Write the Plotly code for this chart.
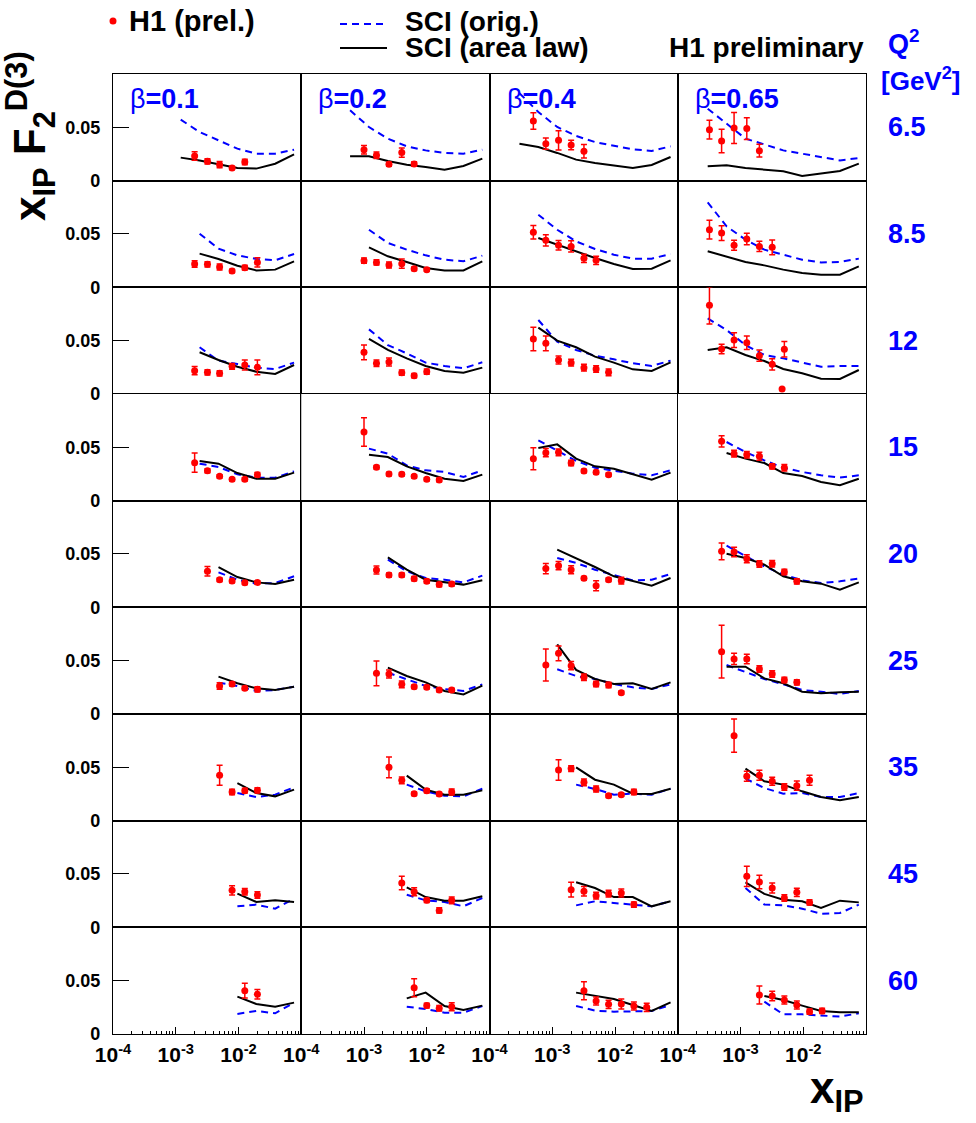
import plotly.graph_objects as go
from plotly.subplots import make_subplots

# ---------------- data ----------------
BETA_LABELS = ["0.1", "0.2", "0.4", "0.65"]
Q2_LABELS = ["6.5", "8.5", "12", "15", "20", "25", "35", "45", "60"]
X_TICKS = [1e-4, 1e-3, 1e-2]
X_TICK_TEXT = ["10<sup>-4</sup>", "10<sup>-3</sup>", "10<sup>-2</sup>"]
Y_TICKS = [0, 0.05]
Y_TICK_TEXT = ["0", "0.05"]

# x_IP grid of the SCI model curves (each curve uses the last len(values) points)
MODEL_X = [3.0e-4, 6.0e-4, 1.2e-3, 2.4e-3, 4.8e-3, 9.6e-3, 1.92e-2, 3.84e-2, 7.68e-2]

# H1 data: [row(Q2)][col(beta)]
H1_X = [
    [[2.0e-3, 3.2e-3, 5.0e-3, 7.9e-3, 1.26e-2],
     [1.0e-3, 1.58e-3, 2.5e-3, 4.0e-3, 6.3e-3],
     [5.0e-4, 7.9e-4, 1.26e-3, 2.0e-3, 3.2e-3],
     [3.2e-4, 5.0e-4, 7.9e-4, 1.26e-3, 2.0e-3]],
    [[2.0e-3, 3.2e-3, 5.0e-3, 7.9e-3, 1.26e-2, 2.0e-2],
     [1.0e-3, 1.58e-3, 2.5e-3, 4.0e-3, 6.3e-3, 1.0e-2],
     [5.0e-4, 7.9e-4, 1.26e-3, 2.0e-3, 3.2e-3, 5.0e-3],
     [3.2e-4, 5.0e-4, 7.9e-4, 1.26e-3, 2.0e-3, 3.2e-3]],
    [[2.0e-3, 3.2e-3, 5.0e-3, 7.9e-3, 1.26e-2, 2.0e-2],
     [1.0e-3, 1.58e-3, 2.5e-3, 4.0e-3, 6.3e-3, 1.0e-2],
     [5.0e-4, 7.9e-4, 1.26e-3, 2.0e-3, 3.2e-3, 5.0e-3, 7.9e-3],
     [3.2e-4, 5.0e-4, 7.9e-4, 1.26e-3, 2.0e-3, 3.2e-3, 4.6e-3, 5.0e-3]],
    [[2.0e-3, 3.2e-3, 5.0e-3, 7.9e-3, 1.26e-2, 2.0e-2],
     [1.0e-3, 1.58e-3, 2.5e-3, 4.0e-3, 6.3e-3, 1.0e-2, 1.58e-2],
     [5.0e-4, 7.9e-4, 1.26e-3, 2.0e-3, 3.2e-3, 5.0e-3, 7.9e-3],
     [5.0e-4, 7.9e-4, 1.26e-3, 2.0e-3, 3.2e-3, 5.0e-3]],
    [[3.2e-3, 5.0e-3, 7.9e-3, 1.26e-2, 2.0e-2],
     [1.58e-3, 2.5e-3, 4.0e-3, 6.3e-3, 1.0e-2, 1.58e-2, 2.5e-2],
     [7.9e-4, 1.26e-3, 2.0e-3, 3.2e-3, 5.0e-3, 7.9e-3, 1.26e-2],
     [5.0e-4, 7.9e-4, 1.26e-3, 2.0e-3, 3.2e-3, 5.0e-3, 7.9e-3]],
    [[5.0e-3, 7.9e-3, 1.26e-2, 2.0e-2],
     [1.58e-3, 2.5e-3, 4.0e-3, 6.3e-3, 1.0e-2, 1.58e-2, 2.5e-2],
     [7.9e-4, 1.26e-3, 2.0e-3, 3.2e-3, 5.0e-3, 7.9e-3, 1.26e-2],
     [5.0e-4, 7.9e-4, 1.26e-3, 2.0e-3, 3.2e-3, 5.0e-3, 7.9e-3]],
    [[5.0e-3, 7.9e-3, 1.26e-2, 2.0e-2],
     [2.5e-3, 4.0e-3, 6.3e-3, 1.0e-2, 1.58e-2, 2.5e-2],
     [1.26e-3, 2.0e-3, 3.2e-3, 5.0e-3, 7.9e-3, 1.26e-2, 2.0e-2],
     [7.9e-4, 1.26e-3, 2.0e-3, 3.2e-3, 5.0e-3, 7.9e-3, 1.26e-2]],
    [[7.9e-3, 1.26e-2, 2.0e-2],
     [4.0e-3, 6.3e-3, 1.0e-2, 1.58e-2, 2.5e-2],
     [2.0e-3, 3.2e-3, 5.0e-3, 7.9e-3, 1.26e-2, 2.0e-2],
     [1.26e-3, 2.0e-3, 3.2e-3, 5.0e-3, 7.9e-3, 1.26e-2]],
    [[1.26e-2, 2.0e-2],
     [6.3e-3, 1.0e-2, 1.58e-2, 2.5e-2],
     [3.2e-3, 5.0e-3, 7.9e-3, 1.26e-2, 2.0e-2, 3.2e-2],
     [2.0e-3, 3.2e-3, 5.0e-3, 7.9e-3, 1.26e-2, 2.0e-2]],
]

H1_F = [
    [[0.0231, 0.0181, 0.0150, 0.0119, 0.0175],
     [0.0290, 0.0238, 0.0153, 0.0263, 0.0156],
     [0.0559, 0.0347, 0.0378, 0.0334, 0.0275],
     [0.0478, 0.0372, 0.0494, 0.0488, 0.0281]],
    [[0.0219, 0.0216, 0.0191, 0.0153, 0.0184, 0.0234],
     [0.0250, 0.0234, 0.0209, 0.0222, 0.0175, 0.0166],
     [0.0516, 0.0441, 0.0394, 0.0384, 0.0272, 0.0253],
     [0.0541, 0.0509, 0.0394, 0.0453, 0.0384, 0.0375]],
    [[0.0219, 0.0203, 0.0194, 0.0259, 0.0272, 0.0250],
     [0.0391, 0.0288, 0.0300, 0.0200, 0.0172, 0.0209],
     [0.0516, 0.0475, 0.0319, 0.0294, 0.0247, 0.0234, 0.0203],
     [0.0831, 0.0422, 0.0506, 0.0481, 0.0359, 0.0278, 0.0047, 0.0419]],
    [[0.0356, 0.0281, 0.0228, 0.0200, 0.0200, 0.0244],
     [0.0644, 0.0313, 0.0250, 0.0247, 0.0228, 0.0200, 0.0194],
     [0.0394, 0.0450, 0.0453, 0.0353, 0.0278, 0.0266, 0.0244],
     [0.0556, 0.0441, 0.0431, 0.0416, 0.0322, 0.0309]],
    [[0.0338, 0.0259, 0.0247, 0.0231, 0.0234],
     [0.0350, 0.0303, 0.0303, 0.0269, 0.0244, 0.0213, 0.0219],
     [0.0363, 0.0391, 0.0353, 0.0272, 0.0203, 0.0259, 0.0250],
     [0.0525, 0.0519, 0.0456, 0.0406, 0.0409, 0.0331, 0.0244]],
    [[0.0263, 0.0281, 0.0241, 0.0231],
     [0.0381, 0.0375, 0.0278, 0.0256, 0.0250, 0.0225, 0.0225],
     [0.0459, 0.0569, 0.0453, 0.0344, 0.0281, 0.0272, 0.0200],
     [0.0584, 0.0516, 0.0516, 0.0422, 0.0375, 0.0319, 0.0297]],
    [[0.0425, 0.0269, 0.0281, 0.0284],
     [0.0500, 0.0378, 0.0253, 0.0281, 0.0250, 0.0269],
     [0.0475, 0.0488, 0.0359, 0.0297, 0.0234, 0.0244, 0.0269],
     [0.0797, 0.0416, 0.0425, 0.0369, 0.0316, 0.0328, 0.0378]],
    [[0.0347, 0.0334, 0.0303],
     [0.0416, 0.0334, 0.0253, 0.0159, 0.0253],
     [0.0353, 0.0338, 0.0297, 0.0316, 0.0322, 0.0213],
     [0.0478, 0.0425, 0.0369, 0.0275, 0.0328, 0.0234]],
    [[0.0406, 0.0372],
     [0.0434, 0.0266, 0.0241, 0.0256],
     [0.0406, 0.0309, 0.0278, 0.0281, 0.0263, 0.0250],
     [0.0366, 0.0356, 0.0319, 0.0272, 0.0209, 0.0216]],
]

H1_ERR = [
    [[0.0039, 0.0025, 0.0030, 0.0015, 0.0025],
     [0.0039, 0.0030, 0.0019, 0.0044, 0.0022],
     [0.0078, 0.0053, 0.0090, 0.0044, 0.0063],
     [0.0088, 0.0110, 0.0145, 0.0103, 0.0060]],
    [[0.0031, 0.0025, 0.0028, 0.0016, 0.0022, 0.0044],
     [0.0025, 0.0025, 0.0028, 0.0044, 0.0016, 0.0016],
     [0.0063, 0.0053, 0.0044, 0.0053, 0.0038, 0.0038],
     [0.0088, 0.0069, 0.0047, 0.0053, 0.0047, 0.0069]],
    [[0.0038, 0.0025, 0.0025, 0.0028, 0.0047, 0.0069],
     [0.0069, 0.0031, 0.0038, 0.0025, 0.0019, 0.0025],
     [0.0110, 0.0069, 0.0038, 0.0031, 0.0031, 0.0031, 0.0031],
     [0.0175, 0.0044, 0.0069, 0.0063, 0.0053, 0.0053, 0.0, 0.0072]],
    [[0.0090, 0.0019, 0.0016, 0.0016, 0.0016, 0.0019],
     [0.0134, 0.0016, 0.0016, 0.0016, 0.0016, 0.0016, 0.0016],
     [0.0103, 0.0038, 0.0031, 0.0025, 0.0016, 0.0016, 0.0016],
     [0.0053, 0.0031, 0.0031, 0.0038, 0.0025, 0.0031]],
    [[0.0044, 0.0016, 0.0016, 0.0016, 0.0016],
     [0.0038, 0.0019, 0.0019, 0.0019, 0.0019, 0.0019, 0.0019],
     [0.0047, 0.0038, 0.0038, 0.0016, 0.0047, 0.0016, 0.0031],
     [0.0078, 0.0044, 0.0038, 0.0031, 0.0031, 0.0025, 0.0025]],
    [[0.0031, 0.0019, 0.0016, 0.0025],
     [0.0116, 0.0038, 0.0031, 0.0016, 0.0016, 0.0016, 0.0016],
     [0.0150, 0.0069, 0.0038, 0.0031, 0.0025, 0.0025, 0.0016],
     [0.0247, 0.0053, 0.0044, 0.0031, 0.0031, 0.0025, 0.0025]],
    [[0.0094, 0.0025, 0.0022, 0.0025],
     [0.0097, 0.0031, 0.0016, 0.0019, 0.0016, 0.0028],
     [0.0097, 0.0028, 0.0031, 0.0028, 0.0016, 0.0016, 0.0025],
     [0.0155, 0.0047, 0.0047, 0.0038, 0.0031, 0.0044, 0.0047]],
    [[0.0044, 0.0031, 0.0031],
     [0.0063, 0.0038, 0.0019, 0.0025, 0.0031],
     [0.0069, 0.0044, 0.0031, 0.0031, 0.0038, 0.0025],
     [0.0094, 0.0063, 0.0047, 0.0031, 0.0038, 0.0025]],
    [[0.0069, 0.0044],
     [0.0084, 0.0022, 0.0025, 0.0038],
     [0.0084, 0.0038, 0.0038, 0.0047, 0.0038, 0.0038],
     [0.0084, 0.0044, 0.0038, 0.0038, 0.0025, 0.0025]],
]

# SCI (orig.) model, dashed blue
SCI_ORIG = [
    [[0.0572, 0.0456, 0.0378, 0.0300, 0.0253, 0.0253, 0.0290],
     [0.0660, 0.0503, 0.0394, 0.0322, 0.0284, 0.0260, 0.0253, 0.0290],
     [0.0820, 0.0644, 0.0503, 0.0419, 0.0362, 0.0331, 0.0294, 0.0278, 0.0322],
     [0.0675, 0.0534, 0.0394, 0.0340, 0.0284, 0.0253, 0.0222, 0.0190, 0.0212]],
    [[0.0503, 0.0363, 0.0300, 0.0266, 0.0253, 0.0313],
     [0.0540, 0.0416, 0.0353, 0.0300, 0.0259, 0.0244, 0.0297],
     [0.0681, 0.0540, 0.0431, 0.0359, 0.0306, 0.0269, 0.0269, 0.0313],
     [0.0797, 0.0572, 0.0447, 0.0353, 0.0306, 0.0259, 0.0234, 0.0238, 0.0269]],
    [[0.0438, 0.0313, 0.0281, 0.0247, 0.0234, 0.0294],
     [0.0606, 0.0459, 0.0381, 0.0294, 0.0263, 0.0241, 0.0297],
     [0.0694, 0.0491, 0.0413, 0.0359, 0.0325, 0.0288, 0.0263, 0.0313],
     [0.0709, 0.0600, 0.0459, 0.0366, 0.0334, 0.0294, 0.0256, 0.0263, 0.0263]],
    [[0.0347, 0.0316, 0.0247, 0.0216, 0.0216, 0.0275],
     [0.0488, 0.0441, 0.0331, 0.0284, 0.0269, 0.0222, 0.0284],
     [0.0566, 0.0472, 0.0372, 0.0309, 0.0284, 0.0253, 0.0238, 0.0284],
     [0.0550, 0.0456, 0.0378, 0.0309, 0.0269, 0.0238, 0.0216, 0.0238]],
    [[0.0328, 0.0259, 0.0222, 0.0228, 0.0291],
     [0.0447, 0.0338, 0.0275, 0.0259, 0.0234, 0.0297],
     [0.0463, 0.0416, 0.0353, 0.0300, 0.0253, 0.0259, 0.0313],
     [0.0578, 0.0478, 0.0384, 0.0306, 0.0253, 0.0228, 0.0244, 0.0269]],
    [[0.0294, 0.0263, 0.0216, 0.0225, 0.0256],
     [0.0388, 0.0325, 0.0263, 0.0234, 0.0216, 0.0278],
     [0.0419, 0.0356, 0.0328, 0.0281, 0.0250, 0.0234, 0.0278],
     [0.0459, 0.0397, 0.0328, 0.0278, 0.0225, 0.0209, 0.0188, 0.0216]],
    [[0.0259, 0.0222, 0.0244, 0.0313],
     [0.0338, 0.0275, 0.0234, 0.0228, 0.0300],
     [0.0338, 0.0297, 0.0244, 0.0253, 0.0244, 0.0300],
     [0.0394, 0.0306, 0.0253, 0.0259, 0.0222, 0.0222, 0.0259]],
    [[0.0197, 0.0213, 0.0175, 0.0269],
     [0.0306, 0.0253, 0.0238, 0.0197, 0.0275],
     [0.0206, 0.0244, 0.0228, 0.0213, 0.0197, 0.0244],
     [0.0369, 0.0213, 0.0206, 0.0175, 0.0128, 0.0134, 0.0213]],
    [[0.0188, 0.0216, 0.0194, 0.0294],
     [0.0256, 0.0234, 0.0200, 0.0200, 0.0263],
     [0.0263, 0.0219, 0.0209, 0.0216, 0.0216, 0.0272],
     [0.0303, 0.0184, 0.0184, 0.0172, 0.0163, 0.0194]],
]

# SCI (area law) model, solid black
SCI_AREA = [
    [[0.0216, 0.0190, 0.0153, 0.0119, 0.0113, 0.0159, 0.0247],
     [0.0228, 0.0228, 0.0184, 0.0150, 0.0128, 0.0103, 0.0138, 0.0206],
     [0.0347, 0.0316, 0.0260, 0.0197, 0.0166, 0.0141, 0.0119, 0.0147, 0.0222],
     [0.0134, 0.0144, 0.0119, 0.0106, 0.0088, 0.0044, 0.0066, 0.0091, 0.0160]],
    [[0.0316, 0.0266, 0.0203, 0.0159, 0.0166, 0.0244],
     [0.0375, 0.0291, 0.0238, 0.0181, 0.0159, 0.0159, 0.0244],
     [0.0463, 0.0400, 0.0338, 0.0275, 0.0219, 0.0172, 0.0175, 0.0253],
     [0.0338, 0.0291, 0.0238, 0.0206, 0.0166, 0.0134, 0.0119, 0.0119, 0.0197]],
    [[0.0391, 0.0319, 0.0256, 0.0209, 0.0188, 0.0272],
     [0.0516, 0.0413, 0.0334, 0.0263, 0.0216, 0.0200, 0.0247],
     [0.0622, 0.0500, 0.0438, 0.0350, 0.0294, 0.0231, 0.0216, 0.0297],
     [0.0413, 0.0438, 0.0366, 0.0309, 0.0234, 0.0194, 0.0144, 0.0141, 0.0225]],
    [[0.0372, 0.0347, 0.0259, 0.0206, 0.0206, 0.0263],
     [0.0431, 0.0409, 0.0322, 0.0259, 0.0206, 0.0184, 0.0244],
     [0.0494, 0.0528, 0.0394, 0.0322, 0.0300, 0.0247, 0.0197, 0.0263],
     [0.0447, 0.0394, 0.0353, 0.0259, 0.0231, 0.0175, 0.0144, 0.0206]],
    [[0.0378, 0.0284, 0.0234, 0.0219, 0.0259],
     [0.0469, 0.0353, 0.0259, 0.0238, 0.0213, 0.0253],
     [0.0541, 0.0463, 0.0378, 0.0291, 0.0244, 0.0203, 0.0275],
     [0.0503, 0.0463, 0.0400, 0.0291, 0.0244, 0.0222, 0.0166, 0.0234]],
    [[0.0350, 0.0288, 0.0241, 0.0225, 0.0256],
     [0.0434, 0.0356, 0.0297, 0.0216, 0.0184, 0.0266],
     [0.0653, 0.0413, 0.0328, 0.0281, 0.0288, 0.0234, 0.0297],
     [0.0444, 0.0444, 0.0334, 0.0288, 0.0209, 0.0194, 0.0203, 0.0209]],
    [[0.0353, 0.0259, 0.0228, 0.0291],
     [0.0422, 0.0291, 0.0244, 0.0244, 0.0284],
     [0.0500, 0.0384, 0.0338, 0.0253, 0.0250, 0.0300],
     [0.0488, 0.0369, 0.0338, 0.0275, 0.0222, 0.0191, 0.0222]],
    [[0.0316, 0.0238, 0.0253, 0.0238],
     [0.0375, 0.0284, 0.0250, 0.0250, 0.0291],
     [0.0422, 0.0369, 0.0284, 0.0284, 0.0197, 0.0244],
     [0.0422, 0.0313, 0.0259, 0.0244, 0.0181, 0.0250, 0.0234]],
    [[0.0350, 0.0281, 0.0256, 0.0294],
     [0.0334, 0.0388, 0.0263, 0.0225, 0.0266],
     [0.0388, 0.0356, 0.0328, 0.0272, 0.0216, 0.0297],
     [0.0356, 0.0319, 0.0266, 0.0216, 0.0203, 0.0203]],
]

# ---------------- figure ----------------
W, H = 976, 1123
L, R, T, B = 113, 866, 74, 1034
NR, NC = 9, 4
FONT = "Liberation Sans, Arial, Helvetica, sans-serif"
BLUE = "#0000ff"
RED = "#ff0000"


def pxx(x):
    return (x - L) / (R - L)


def pxy(y):
    return (B - y) / (B - T)


fig = make_subplots(rows=NR, cols=NC, horizontal_spacing=0, vertical_spacing=0)

for r in range(NR):
    for c in range(NC):
        orig = SCI_ORIG[r][c]
        area = SCI_AREA[r][c]
        fig.add_trace(go.Scatter(x=MODEL_X[-len(orig):], y=orig, mode="lines",
                                 line=dict(color=BLUE, width=2, dash="7px,5px"),
                                 showlegend=False, hoverinfo="skip"), row=r + 1, col=c + 1)
        fig.add_trace(go.Scatter(x=MODEL_X[-len(area):], y=area, mode="lines",
                                 line=dict(color="black", width=2),
                                 showlegend=False, hoverinfo="skip"), row=r + 1, col=c + 1)
        fig.add_trace(go.Scatter(x=H1_X[r][c], y=H1_F[r][c], mode="markers",
                                 marker=dict(color=RED, size=7, symbol="circle"),
                                 error_y=dict(type="data", array=H1_ERR[r][c], color=RED,
                                              thickness=1.5, width=3),
                                 showlegend=False), row=r + 1, col=c + 1)

MINOR = [m * 10.0 ** e for e in (-4, -3, -2) for m in range(2, 10)]

for r in range(NR):
    for c in range(NC):
        bottom = (r == NR - 1)
        left = (c == 0)
        xa = dict(type="log", range=[-4, -1], showline=True, mirror=True,
                  linecolor="black", linewidth=1.3, showgrid=False, zeroline=False)
        if bottom:
            xa.update(tickmode="array", tickvals=X_TICKS, ticktext=X_TICK_TEXT,
                      ticks="inside", ticklen=7, tickwidth=1, tickcolor="black",
                      tickfont=dict(family=FONT, size=21, color="black", weight="bold"),
                      minor=dict(tickmode="array", tickvals=MINOR, ticks="inside",
                                 ticklen=3, tickwidth=1, tickcolor="black", showgrid=False),
                      ticklabelstandoff=2)
        else:
            xa.update(showticklabels=False, ticks="")
        ya = dict(range=[0, 0.1], showline=True, mirror=True, linecolor="black",
                  linewidth=1.3, showgrid=False, zeroline=False)
        if left:
            ya.update(tickmode="array", tickvals=Y_TICKS, ticktext=Y_TICK_TEXT,
                      ticks="inside", ticklen=16, tickwidth=1.2, tickcolor="black",
                      tickfont=dict(family=FONT, size=18, color="black", weight="bold"),
                      ticklabelstandoff=8)
        else:
            ya.update(showticklabels=False, ticks="")
        fig.update_xaxes(xa, row=r + 1, col=c + 1)
        fig.update_yaxes(ya, row=r + 1, col=c + 1)

ann = []
# beta labels in top row
for c in range(NC):
    ax = "" if c == 0 else str(c + 1)
    ann.append(dict(xref=f"x{ax} domain", yref=f"y{ax} domain", x=0.08, y=0.77,
                    xanchor="left", yanchor="middle", showarrow=False,
                    text=f"β<b>={BETA_LABELS[c]}</b>",
                    font=dict(family=FONT, size=27, color=BLUE)))
# Q2 labels at right
for r in range(NR):
    i = r * NC + 1
    ya = "y" if i == 1 else f"y{i}"
    ann.append(dict(xref="paper", yref=ya, x=pxx(886), y=0.05, xanchor="left",
                    yanchor="middle", showarrow=False, text=Q2_LABELS[r],
                    font=dict(family=FONT, size=27, color=BLUE, weight="bold")))

ann.append(dict(xref="paper", yref="paper", x=pxx(886), y=pxy(42), xanchor="left",
                yanchor="middle", showarrow=False, text="Q<sup>2</sup>",
                font=dict(family=FONT, size=27, color=BLUE, weight="bold")))
ann.append(dict(xref="paper", yref="paper", x=pxx(879), y=pxy(79), xanchor="left",
                yanchor="middle", showarrow=False, text="[GeV<sup>2</sup>]",
                font=dict(family=FONT, size=26, color=BLUE, weight="bold")))

# legend texts
ann.append(dict(xref="paper", yref="paper", x=pxx(127), y=pxy(21), xanchor="left",
                yanchor="middle", showarrow=False, text="H1 (prel.)",
                font=dict(family=FONT, size=29, color="black", weight="bold")))
ann.append(dict(xref="paper", yref="paper", x=pxx(403), y=pxy(21), xanchor="left",
                yanchor="middle", showarrow=False, text="SCI (orig.)",
                font=dict(family=FONT, size=28, color="black", weight="bold")))
ann.append(dict(xref="paper", yref="paper", x=pxx(403), y=pxy(48), xanchor="left",
                yanchor="middle", showarrow=False, text="SCI (area law)",
                font=dict(family=FONT, size=28, color="black", weight="bold")))
ann.append(dict(xref="paper", yref="paper", x=pxx(866), y=pxy(48), xanchor="right",
                yanchor="middle", showarrow=False, text="H1 preliminary",
                font=dict(family=FONT, size=28, color="black", weight="bold")))

# axis titles
ann.append(dict(xref="paper", yref="paper", x=pxx(30), y=pxy(136), xanchor="center",
                yanchor="middle", showarrow=False, textangle=-90,
                text="x<sub>IP</sub> F<sub>2</sub><sup>D(3)</sup>",
                font=dict(family=FONT, size=44, color="black", weight="bold")))
ann.append(dict(xref="paper", yref="paper", x=pxx(866), y=pxy(1121), xanchor="right",
                yanchor="bottom", showarrow=False, text="x<sub>IP</sub>",
                font=dict(family=FONT, size=44, color="black", weight="bold")))

shapes = [
    dict(type="circle", xref="paper", yref="paper", x0=pxx(109.5), x1=pxx(116.5),
         y0=pxy(24.5), y1=pxy(17.5), fillcolor=RED, line=dict(color=RED, width=0)),
    dict(type="line", xref="paper", yref="paper", x0=pxx(340), x1=pxx(387),
         y0=pxy(24), y1=pxy(24), line=dict(color=BLUE, width=2, dash="7px,5px")),
    dict(type="line", xref="paper", yref="paper", x0=pxx(340), x1=pxx(387),
         y0=pxy(48), y1=pxy(48), line=dict(color="black", width=2)),
]

fig.update_layout(width=W, height=H, margin=dict(l=L, r=W - R, t=T, b=H - B),
                  paper_bgcolor="white", plot_bgcolor="white", showlegend=False,
                  annotations=ann, shapes=shapes,
                  font=dict(family=FONT, color="black"))

fig.write_html("out.html", config={"displayModeBar": False},
               post_script="document.body.style.margin='0px';document.body.style.padding='0px';")
